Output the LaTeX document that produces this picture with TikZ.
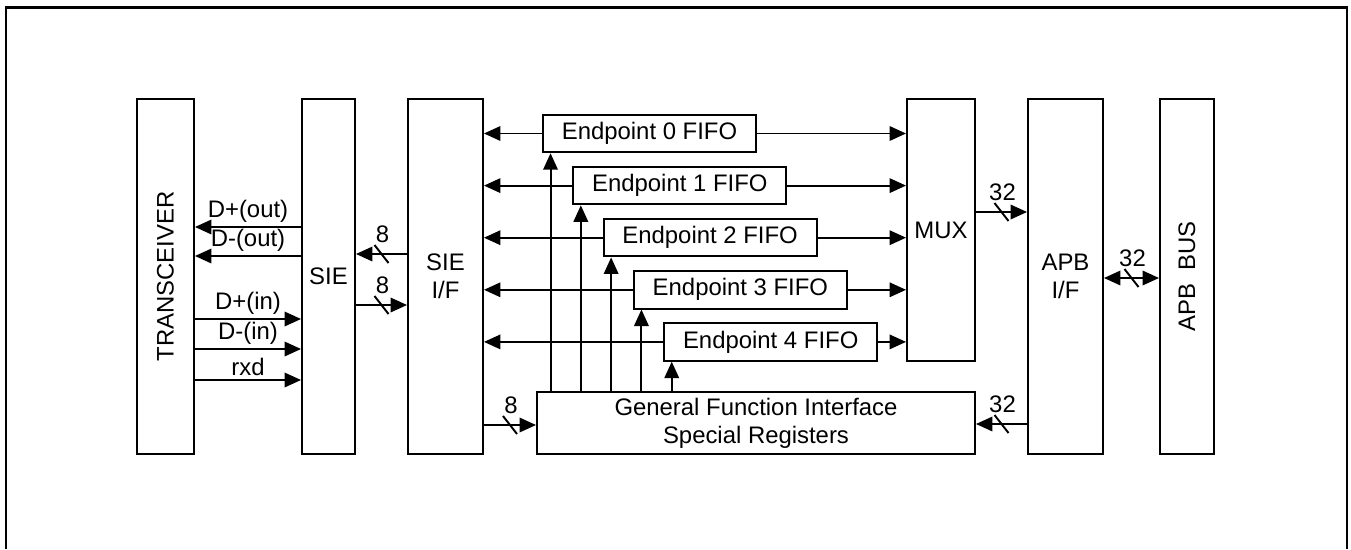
\documentclass[tikz,border=0pt]{standalone}
\usepackage{fontspec}
\setmainfont{Liberation Sans}
\usepackage{graphicx}
\usetikzlibrary{arrows.meta, positioning, calc}
\tikzset{
  tallbox/.style={rectangle, draw, line width=1.1pt,
    minimum height=71mm, align=center, inner sep=0pt},
  fifobox/.style={rectangle, draw, line width=1.1pt,
    minimum width=42.6mm, minimum height=7.5mm, inner sep=0pt},
  arrow/.style={-{Triangle[length=3.3mm, width=2.9mm]}, line width=1.1pt},
  dblarrow/.style={{Triangle[length=3.3mm, width=2.9mm]}-{Triangle[length=3.3mm, width=2.9mm]}, line width=1.1pt},
  siglbl/.style={above, inner sep=2pt},
  buslbl/.style={inner sep=0pt},
  line/.style={line width=1.1pt}
}
\newcommand{\busmark}[2]{%
  \draw[line] ($(#1)+(-7,-9)$) -- ($(#1)+(7,9)$);
  \node[buslbl] at ($(#1)+(1,-20)$) {#2};}

\begin{document}
\begin{tikzpicture}[x=0.2mm, y=-0.2mm, every node/.style={font=\fontsize{13.6}{16}\selectfont}]
  \useasboundingbox (0,0) rectangle (1351,549);
  % Frame
  \draw[line width=1.4pt] (6,549) -- (6,7.5) -- (1347,7.5) -- (1347,549);

  % Tall blocks
  \node[tallbox, minimum width=11.4mm] (trx) at (165.5,276.5) {\rotatebox{90}{TRANSCEIVER}};
  \node[tallbox, minimum width=10.6mm] (sie) at (328.5,276.5) {SIE};
  \node[tallbox, minimum width=15mm] (sieif) at (445.5,276.5) {SIE\\I/F};
  \node[tallbox, minimum width=15mm] (apbif) at (1065.5,276.5) {APB\\I/F};
  \node[tallbox, minimum width=10.8mm] (apbbus) at (1187,276.5) {\rotatebox{90}{APB~~BUS}};
  \node[tallbox, minimum width=13.6mm, minimum height=52.4mm] (mux) at (941,230) {MUX};
  \node[tallbox, minimum width=87.6mm, minimum height=12.4mm] (gfi) at (756,423)
    {General Function Interface\\Special Registers};

  % Endpoint FIFOs
  \foreach \i in {0,...,4} {
    \node[fifobox] (ep\i) at (649.5+30.3*\i, 133.5+52.1*\i) {Endpoint \i{} FIFO};
    \coordinate (up\i) at ($(ep\i.south west)+(8.5,0)$);
    \draw[arrow] (ep\i.west) -- (ep\i.west -| sieif.east);
    \draw[arrow] (ep\i.east) -- (ep\i.east -| mux.west);
    \draw[arrow] (up\i |- gfi.north) -- (up\i);
  }

  % Transceiver signals
  \draw[arrow] (sie.west |- 0,227) -- node[siglbl] {D+(out)} (trx.east |- 0,227);
  \draw[arrow] (sie.west |- 0,256) -- node[siglbl] {D-(out)} (trx.east |- 0,256);
  \draw[arrow] (trx.east |- 0,319) -- node[siglbl] {D+(in)} (sie.west |- 0,319);
  \draw[arrow] (trx.east |- 0,349) -- node[siglbl] {D-(in)} (sie.west |- 0,349);
  \draw[arrow] (trx.east |- 0,380) -- node[siglbl] {rxd} (sie.west |- 0,380);

  % Buses
  \draw[arrow] (sieif.west |- 0,254) -- coordinate[midway] (b1) (sie.east |- 0,254);
  \busmark{b1}{8}
  \draw[arrow] (sie.east |- 0,305) -- coordinate[midway] (b2) (sieif.west |- 0,305);
  \busmark{b2}{8}
  \draw[arrow] (sieif.east |- 0,425) -- coordinate[midway] (b3) (gfi.west |- 0,425);
  \busmark{b3}{8}
  \draw[arrow] (mux.east |- 0,212) -- coordinate[midway] (b4) (apbif.west |- 0,212);
  \busmark{b4}{32}
  \draw[dblarrow] (apbif.east |- 0,278) -- coordinate[midway] (b5) (apbbus.west |- 0,278);
  \busmark{b5}{32}
  \draw[arrow] (apbif.west |- 0,424) -- coordinate[midway] (b6) (gfi.east |- 0,424);
  \busmark{b6}{32}
\end{tikzpicture}
\end{document}
